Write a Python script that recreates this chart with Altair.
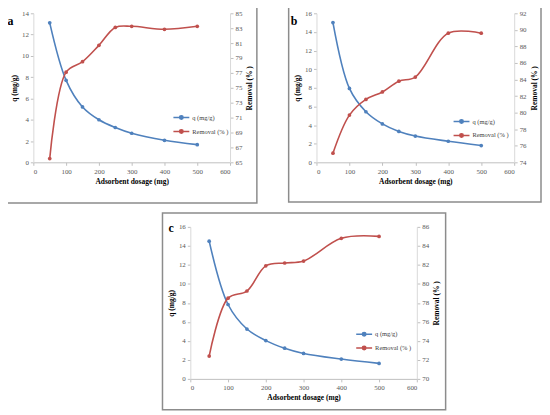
import altair as alt
import pandas as pd

# ---- data ----
dosage = [50, 100, 150, 200, 250, 300, 400, 500]
q_a = [13.1, 7.7, 5.2, 4.0, 3.27, 2.73, 2.07, 1.66]
rem_a = [65.5, 77.1, 78.5, 80.7, 83.1, 83.25, 82.85, 83.25]
q_b = [15.0, 7.93, 5.43, 4.12, 3.31, 2.82, 2.26, 1.8]
rem_b = [75.1, 79.7, 81.6, 82.5, 83.8, 84.3, 89.6, 89.6]
q_c = [14.5, 7.83, 5.25, 4.03, 3.23, 2.68, 2.09, 1.63]
rem_c = [72.4, 78.5, 79.25, 81.9, 82.2, 82.4, 84.8, 85.0]
series_names = ["q (mg/g)", "Removal (% )"]
colors = ["#4F81BD", "#C0504D"]
x_ticks = [0, 100, 200, 300, 400, 500, 600]

FONT = "Liberation Serif"
PATH = "M-1,0L1,0M0.22,0A0.22,0.22,0,1,1,-0.22,0A0.22,0.22,0,1,1,0.22,0Z"


def panel(label, q, rem, qmax, rdom, w, h, leg, lab, frame, rowpad):
    df = pd.DataFrame({"x": dosage, "q": q, "rem": rem,
                       "s_q": series_names[0], "s_r": series_names[1]})
    cscale = alt.Scale(domain=series_names, range=colors)
    legend = alt.Legend(title=None, orient="none", legendX=leg[0], legendY=leg[1],
                        symbolType=PATH, symbolSize=256, symbolStrokeWidth=1.5,
                        labelFont=FONT, labelFontSize=6.5, labelColor="#404040",
                        rowPadding=rowpad, labelOffset=2)
    xenc = alt.X("x:Q", scale=alt.Scale(domain=[0, 600], nice=False),
                 axis=alt.Axis(values=x_ticks, title="Adsorbent dosage (mg)",
                               titlePadding=3))
    base = alt.Chart(df)
    pt = alt.OverlayMarkDef(filled=True, size=14, opacity=1)
    ql = base.mark_line(interpolate="catmull-rom", strokeWidth=1.6, point=pt).encode(
        x=xenc,
        y=alt.Y("q:Q", scale=alt.Scale(domain=[0, qmax], nice=False),
                axis=alt.Axis(values=list(range(0, qmax + 1, 2)), title="q (mg/g)",
                              orient="left", titlePadding=3, domainColor="#D9D9D9")),
        color=alt.Color("s_q:N", scale=cscale, legend=legend),
    )
    rl = base.mark_line(interpolate="catmull-rom", strokeWidth=1.6, point=pt).encode(
        x=xenc,
        y=alt.Y("rem:Q", scale=alt.Scale(domain=rdom, nice=False),
                axis=alt.Axis(values=list(range(rdom[0], rdom[1] + 1, 2)),
                              title="Removal (% )", orient="right", titleAngle=270,
                              titleBaseline="top", titlePadding=4,
                              domainColor="#D9D9D9")),
        color=alt.Color("s_r:N", scale=cscale, legend=legend),
    )
    one = alt.Chart(pd.DataFrame({"label": [label]}))
    fr = one.mark_rect(fill="white", fillOpacity=0, stroke="#8c8c8c", strokeWidth=1.5).encode(
        x=alt.value(frame[0]), x2=alt.value(w + frame[1]),
        y=alt.value(frame[2]), y2=alt.value(h + frame[3]))
    tx = one.mark_text(font=FONT, fontSize=12, fontWeight="bold", align="left",
                       baseline="alphabetic", color="#000000").encode(
        x=alt.value(lab[0]), y=alt.value(lab[1]), text="label:N")
    return alt.layer(fr, ql, rl, tx).resolve_scale(y="independent").properties(
        width=w, height=h)


pa = panel("a", q_a, rem_a, 14, [65, 85], 198, 150, (140, 96), (-26, 12),
           (-28, 27, -7, 41), -5)
pb = panel("b", q_b, rem_b, 16, [74, 92], 199, 150, (137, 100), (-26, 11.5),
           (-28, 27, -7, 40), -3)
pc = panel("c", q_c, rem_c, 16, [70, 86], 228, 153, (166, 99), (-22, 5),
           (-28, 29, -14, 31), -6)

spacer = alt.Chart(pd.DataFrame({"v": [0]})).mark_rect(opacity=0).encode(
    x=alt.value(0), x2=alt.value(10), y=alt.value(0), y2=alt.value(10)
).properties(width=158, height=153)

row1 = alt.hconcat(pa, pb, spacing=87, bounds="flush").resolve_scale(color="independent")
row2 = alt.hconcat(spacer, pc, spacing=0, bounds="flush").resolve_scale(color="independent")
chart = alt.vconcat(row1, row2, spacing=8).resolve_scale(color="independent").properties(
    padding={"left": -3.5, "top": -4, "right": 0, "bottom": 0}
).configure_view(strokeWidth=0).configure_axis(
    labelFont=FONT, labelFontSize=7, labelColor="#595959",
    titleFont=FONT, titleFontSize=7.5, titleFontWeight="bold", titleColor="#000000",
    domainColor="#BFBFBF", tickColor="#BFBFBF", tickSize=3, grid=False, labelPadding=2,
)

chart.save("out.html", embed_options={"renderer": "svg", "actions": False})
